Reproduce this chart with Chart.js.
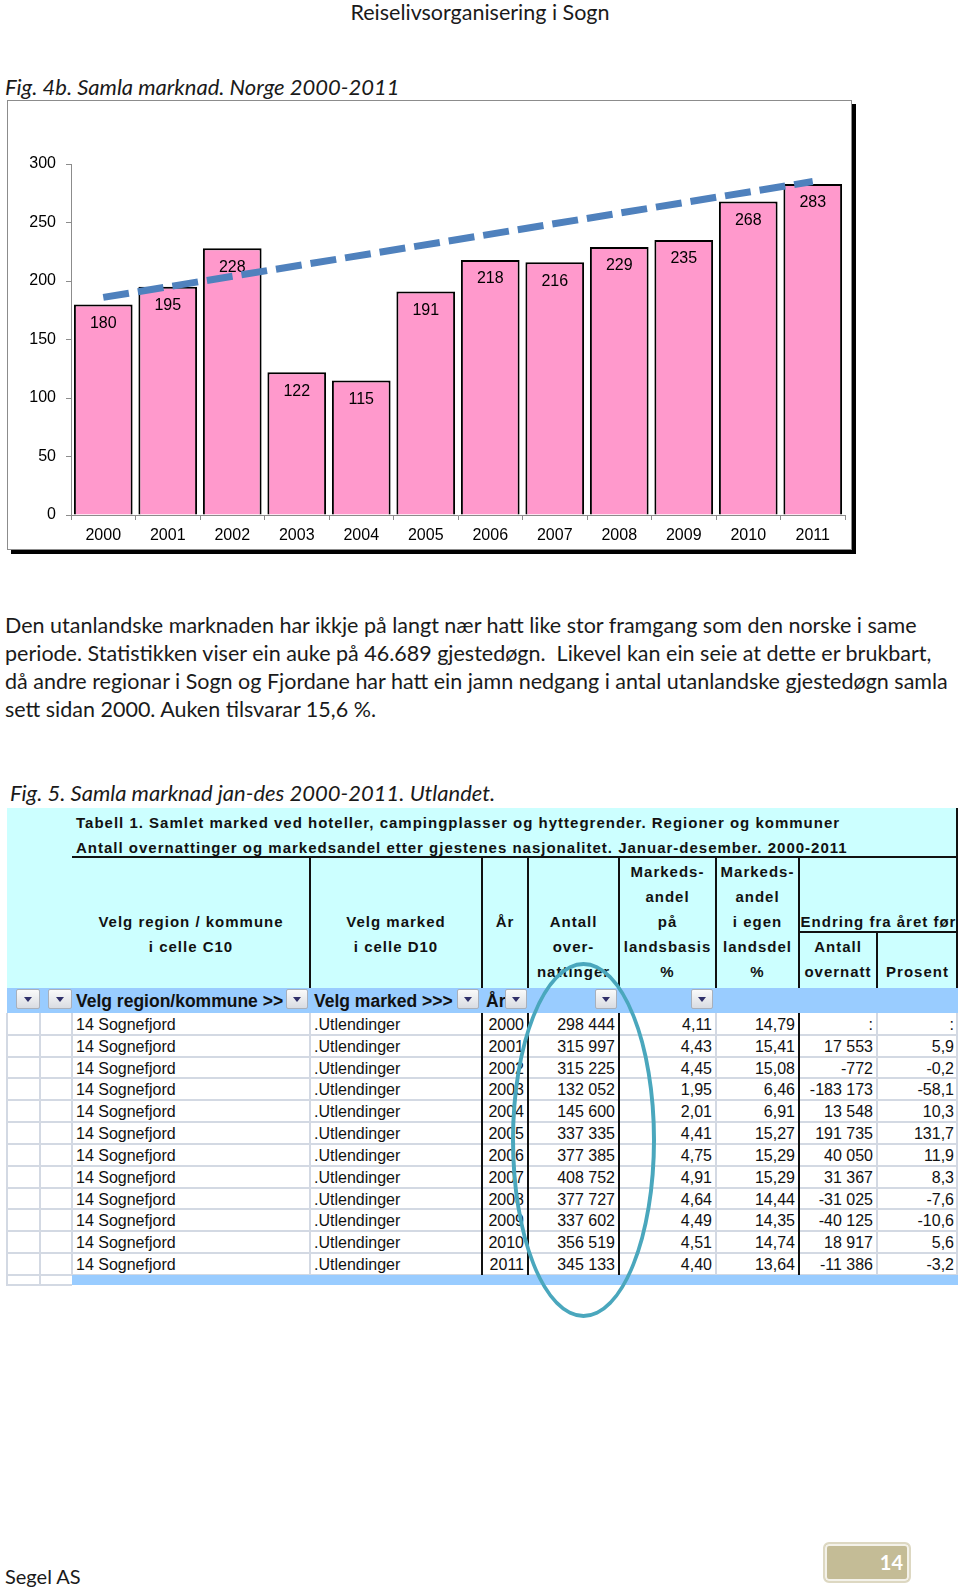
<!DOCTYPE html>
<html>
<head>
<meta charset="utf-8">
<script src="https://cdn.jsdelivr.net/npm/chart.js@4.4.1/dist/chart.umd.min.js"></script>
<style>
body{margin:0;width:960px;height:1588px;position:relative;overflow:hidden;background:#fff;font-family:Lato,sans-serif;color:#1a1a1a}
.t{position:absolute;white-space:nowrap;line-height:24px;font-size:21.5px}
.it{font-style:italic;font-size:22px}
.hd{font:bold 15px "Liberation Sans",Arial,sans-serif;letter-spacing:1px;color:#111;line-height:20px;white-space:nowrap}
.td{font:16px "Liberation Sans",Arial,sans-serif;color:#111;line-height:20px;white-space:nowrap}
.fl{font:bold 17.5px "Liberation Sans",Arial,sans-serif;color:#111;line-height:20px;white-space:nowrap}
.btn{position:absolute;border:1px solid #a9b0bb;border-radius:2px;background:linear-gradient(#fafafa,#d9dce2);box-sizing:border-box}
.btn:after{content:"";position:absolute;left:50%;top:50%;margin:-2px 0 0 -4px;border-left:4px solid transparent;border-right:4px solid transparent;border-top:5px solid #30306a}
#chartBox{position:absolute;left:7px;top:100px;width:845px;height:450px;box-sizing:border-box;border:1px solid #8c8c8c;box-shadow:4px 4px 0 #000;background:#fff}
#chartWrap{position:relative;width:843px;height:448px}
#ring{position:absolute;left:511px;top:962px;width:145px;height:356px;box-sizing:border-box;border:4px solid #4aa7bd;border-radius:50%;z-index:5}
#pageNo{position:absolute;left:823px;top:1542px;width:88px;height:41px;box-sizing:border-box;border:2px solid #ddd8c2;border-radius:6px;background:#c4bc96;box-shadow:inset 0 0 0 2px #f4f2ea}
</style>
</head>
<body>

<div class="t" style="left:0;width:960px;text-align:center;top:0">Reiselivsorganisering i Sogn</div>
<div class="t it" style="left:5px;top:75px">Fig. 4b. Samla marknad. Norge 2000-2011</div>

<div id="chartBox"><div id="chartWrap"><canvas id="myChart"></canvas></div></div>

<div class="t" style="left:5px;top:613px">Den utanlandske marknaden har ikkje på langt nær hatt like stor framgang som den norske i same</div>
<div class="t" style="left:5px;top:641px">periode. Statistikken viser ein auke på 46.689 gjestedøgn.&nbsp; Likevel kan ein seie at dette er brukbart,</div>
<div class="t" style="left:5px;top:669px">då andre regionar i Sogn og Fjordane har hatt ein jamn nedgang i antal utanlandske gjestedøgn samla</div>
<div class="t" style="left:5px;top:697px">sett sidan 2000. Auken tilsvarar 15,6 %.</div>

<div class="t it" style="left:10px;top:781px">Fig. 5. Samla marknad jan-des 2000-2011. Utlandet.</div>

<div id="ring"></div>

<div class="t" style="left:5px;top:1564px;font-size:20px">Segel AS</div>
<div id="pageNo"></div>
<div class="t" style="left:823px;width:80px;text-align:right;top:1550px;color:#fff;font-weight:bold;font-size:20px">14</div>

<script>
// chart values
const years = ['2000', '2001', '2002', '2003', '2004', '2005', '2006', '2007', '2008', '2009', '2010', '2011']
const guestNights = [180, 195, 228, 122, 115, 191, 218, 216, 229, 235, 268, 283]
const trendNights = [186, null, null, null, null, null, null, null, null, null, null, 285]
const yTicks = [0, 50, 100, 150, 200, 250, 300]

// table values
const regionName = '14 Sognefjord'
const marketName = '.Utlendinger'
const tableYears = ['2000', '2001', '2002', '2003', '2004', '2005', '2006', '2007', '2008', '2009', '2010', '2011']
const overnattinger = ['298 444', '315 997', '315 225', '132 052', '145 600', '337 335', '377 385', '408 752', '377 727', '337 602', '356 519', '345 133']
const andelLandsbasis = ['4,11', '4,43', '4,45', '1,95', '2,01', '4,41', '4,75', '4,91', '4,64', '4,49', '4,51', '4,40']
const andelLandsdel = ['14,79', '15,41', '15,08', '6,46', '6,91', '15,27', '15,29', '15,29', '14,44', '14,35', '14,74', '13,64']
const endringAntall = [':', '17 553', '-772', '-183 173', '13 548', '191 735', '40 050', '31 367', '-31 025', '-40 125', '18 917', '-11 386']
const endringProsent = [':', '5,9', '-0,2', '-58,1', '10,3', '131,7', '11,9', '8,3', '-7,6', '-10,6', '5,6', '-3,2']

/////////////////////////////////////////////////////////////
// table (plain divs)
const page = document.body
function box(x, y, w, h, css) {
    const d = document.createElement('div')
    d.style.cssText = `position:absolute;left:${x}px;top:${y}px;width:${w}px;height:${h}px;${css || ''}`
    page.appendChild(d)
    return d
}
function txt(str, x0, x1, cy, align, cls) {
    const d = box(x0, cy - 10, x1 - x0, 20, `text-align:${align};box-sizing:border-box;padding:0 4px`)
    d.className = cls
    d.textContent = str
    return d
}
function btn(x, y, w, h) {
    const d = box(x, y, w, h)
    d.className = 'btn'
}

const headTop = 808, filterTop = 988, rowsTop = 1013, rowH = 21.83

box(7, headTop, 951, filterTop - headTop, 'background:#ccffff')
txt('Tabell 1. Samlet marked ved hoteller, campingplasser og hyttegrender. Regioner og kommuner', 72, 958, 823, 'left', 'hd')
txt('Antall overnattinger og markedsandel etter gjestenes nasjonalitet. Januar-desember. 2000-2011', 72, 958, 848, 'left', 'hd')
box(72, 856, 886, 2, 'background:#111')
;[310, 482, 528, 619, 716, 799].forEach(x => box(x - 1, 857, 2, filterTop - 857, 'background:#111'))
box(876, 932, 2, filterTop - 932, 'background:#111')
box(799, 931, 159, 2, 'background:#111')
box(956, headTop, 2, filterTop - headTop, 'background:#111')

txt('Velg region / kommune', 72, 310, 922, 'center', 'hd')
txt('i celle C10', 72, 310, 947, 'center', 'hd')
txt('Velg marked', 310, 482, 922, 'center', 'hd')
txt('i celle D10', 310, 482, 947, 'center', 'hd')
txt('År', 482, 528, 922, 'center', 'hd')
;['Antall', 'over-', 'nattinger'].forEach((s, i) => txt(s, 528, 619, 922 + i * 25, 'center', 'hd'))
;['Markeds-', 'andel', 'på', 'landsbasis', '%'].forEach((s, i) => txt(s, 619, 716, 872 + i * 25, 'center', 'hd'))
;['Markeds-', 'andel', 'i egen', 'landsdel', '%'].forEach((s, i) => txt(s, 716, 799, 872 + i * 25, 'center', 'hd'))
txt('Endring fra året før', 795, 962, 922, 'center', 'hd')
txt('Antall', 799, 877, 947, 'center', 'hd')
txt('overnatt', 795, 881, 972, 'center', 'hd')
txt('Prosent', 877, 958, 972, 'center', 'hd')

// filter row
box(7, filterTop, 951, rowsTop - filterTop, 'background:#99ccff')
btn(16, 989, 24, 20)
btn(48, 989, 24, 20)
txt('Velg region/kommune >>', 72, 290, 1001, 'left', 'fl')
btn(286, 989, 22, 20)
txt('Velg marked  >>>', 310, 460, 1001, 'left', 'fl')
btn(457, 989, 22, 20)
txt('År', 482, 510, 1001, 'left', 'fl')
btn(505, 989, 22, 20)
btn(595, 989, 22, 20)
btn(691, 989, 22, 20)

// data rows
const rowsBottom = rowsTop + rowH * tableYears.length
for (let i = 1; i <= tableYears.length; i++) {
    box(7, Math.round(rowsTop + i * rowH) - 1, 951, 2, 'background:#d3d9e3')
}
;[7, 40, 72, 310, 716, 877, 957].forEach(x => box(x - 1, rowsTop, 2, rowsBottom - rowsTop, 'background:#d3d9e3'))
;[482, 528, 619, 799].forEach(x => box(x - 1, rowsTop, 2, rowsBottom - rowsTop, 'background:#111'))
box(72, rowsBottom, 886, 10, 'background:#99ccff')
box(6, rowsBottom, 2, 11, 'background:#d3d9e3')
box(39, rowsBottom, 2, 11, 'background:#d3d9e3')
box(7, rowsBottom + 9, 65, 2, 'background:#d3d9e3')

tableYears.forEach((yr, i) => {
    const cy = rowsTop + rowH * i + rowH / 2 + 1
    txt(regionName, 72, 310, cy, 'left', 'td')
    txt(marketName, 310, 482, cy, 'left', 'td')
    txt(yr, 482, 528, cy, 'right', 'td')
    txt(overnattinger[i], 528, 619, cy, 'right', 'td')
    txt(andelLandsbasis[i], 619, 716, cy, 'right', 'td')
    txt(andelLandsdel[i], 716, 799, cy, 'right', 'td')
    txt(endringAntall[i], 799, 877, cy, 'right', 'td')
    txt(endringProsent[i], 877, 958, cy, 'right', 'td')
})

/////////////////////////////////////////////////////////////
//Chart
Chart.defaults.font.family = '"Liberation Sans", Arial, sans-serif'
Chart.defaults.font.size = 16
Chart.defaults.color = '#000'

// value written inside the top of every bar, before the dashed line is drawn
const barLabels = {
    id: 'barLabels',
    afterDatasetDraw(chart, args) {
        if (args.meta.type !== 'bar') return
        const ctx = chart.ctx
        ctx.save()
        ctx.font = '16px "Liberation Sans", Arial, sans-serif'
        ctx.fillStyle = '#000'
        ctx.textAlign = 'center'
        ctx.textBaseline = 'middle'
        args.meta.data.forEach((bar, i) => {
            ctx.fillText(guestNights[i], bar.x, bar.y + 19)
        })
        ctx.restore()
    }
}

const data = {
    labels: years,
    datasets: [{
        type: 'line',
        label: 'Trend',
        data: trendNights,
        borderColor: '#4f81bd',
        borderWidth: 7,
        borderDash: [26, 9],
        borderCapStyle: 'butt',
        pointRadius: 0,
        spanGaps: true,
        fill: false,
        order: 0
    },
    {
        type: 'bar',
        label: 'Gjestedøgn',
        data: guestNights,
        backgroundColor: '#ff99cc',
        borderColor: '#000',
        borderWidth: 2,
        barPercentage: 0.91,
        categoryPercentage: 1,
        order: 1
    }]
}

const config = {
    data,
    plugins: [barLabels],
    options: {
        responsive: true,
        maintainAspectRatio: false,
        animation: false,
        layout: {
            padding: { top: 63, right: 6, bottom: 0, left: 0 }
        },
        plugins: {
            legend: { display: false },
            tooltip: { enabled: false }
        },
        scales: {
            x: {
                grid: { drawOnChartArea: false, tickLength: 5, color: '#8c8c8c', offset: true },
                border: { color: '#8c8c8c', width: 1 },
                ticks: { padding: 6, maxRotation: 0 },
                afterFit(scale) { scale.height = 34 }
            },
            y: {
                min: 0,
                max: 300,
                afterBuildTicks(scale) { scale.ticks = yTicks.map(v => ({ value: v })) },
                grid: { drawOnChartArea: false, tickLength: 5, color: '#8c8c8c' },
                border: { color: '#8c8c8c', width: 1 },
                ticks: { padding: 10 },
                afterFit(scale) { scale.width = 63 }
            }
        }
    }
}

const myChart = new Chart(document.getElementById('myChart'), config)
</script>
</body>
</html>
